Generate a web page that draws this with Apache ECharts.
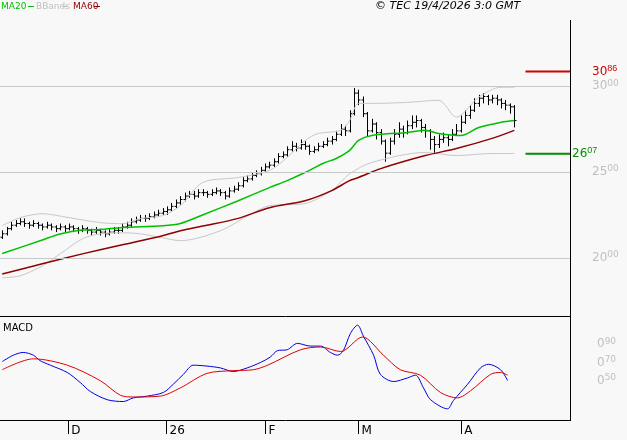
<!DOCTYPE html>
<html>
<head>
<meta charset="UTF-8">
<title>Chart</title>
<style>body{margin:0;background:#f8f8f8}</style>
</head>
<body>
<div id='main' style="width:627px;height:440px;"></div>
<script src="https://cdn.jsdelivr.net/npm/echarts@6/dist/echarts.min.js"></script>
<script type="text/javascript">
// daily bars [open, high, low, close]
var bars = [
 [21.2,21.6,21.1,21.4],[21.4,21.8,21.3,21.7],[21.7,22.1,21.6,21.9],[21.9,22.2,21.8,22.0],[22.0,22.3,21.9,22.1],
 [22.1,22.3,21.8,22.0],[22.0,22.1,21.7,21.9],[21.9,22.2,21.8,22.0],[22.0,22.1,21.7,21.9],[21.9,22.0,21.6,21.8],
 [21.8,22.1,21.7,21.9],[21.9,22.0,21.6,21.8],[21.8,21.9,21.5,21.7],[21.7,22.0,21.6,21.8],[21.8,21.9,21.5,21.7],
 [21.7,22.0,21.6,21.8],[21.8,21.9,21.5,21.7],[21.7,21.8,21.4,21.6],[21.6,21.9,21.5,21.7],[21.7,21.8,21.4,21.6],
 [21.6,21.7,21.3,21.5],[21.5,21.8,21.4,21.6],[21.6,21.7,21.3,21.5],[21.5,21.6,21.2,21.4],[21.4,21.7,21.3,21.5],
 [21.5,21.8,21.4,21.6],[21.6,21.8,21.4,21.6],[21.6,22.0,21.5,21.8],[21.8,22.1,21.7,21.9],[21.9,22.3,21.8,22.1],
 [22.1,22.4,22.0,22.2],[22.2,22.5,22.1,22.3],[22.3,22.5,22.1,22.3],[22.3,22.6,22.2,22.4],[22.4,22.7,22.3,22.5],
 [22.5,22.8,22.4,22.6],[22.6,22.9,22.5,22.7],[22.7,23.0,22.5,22.8],[22.8,23.2,22.7,23.0],[23.0,23.4,22.9,23.2],
 [23.2,23.6,23.1,23.4],[23.4,23.8,23.3,23.6],[23.6,23.9,23.5,23.7],[23.7,23.9,23.4,23.6],[23.6,24.0,23.5,23.8],
 [23.8,24.0,23.6,23.8],[23.8,23.9,23.5,23.7],[23.7,24.0,23.6,23.8],[23.8,24.1,23.7,23.9],[23.9,24.0,23.6,23.8],
 [23.8,23.9,23.4,23.6],[23.6,24.1,23.5,23.9],[23.9,24.2,23.8,24.0],[24.0,24.4,23.9,24.2],[24.2,24.7,24.1,24.5],
 [24.5,24.8,24.4,24.6],[24.6,25.0,24.5,24.8],[24.8,25.1,24.7,24.9],[24.9,25.3,24.8,25.1],[25.1,25.5,25.0,25.3],
 [25.3,25.6,25.2,25.4],[25.4,25.8,25.3,25.6],[25.6,26.1,25.5,25.9],[25.9,26.2,25.8,26.0],[26.0,26.5,25.9,26.3],
 [26.3,26.8,26.2,26.5],[26.5,26.7,26.2,26.4],[26.4,26.9,26.3,26.6],[26.6,26.8,26.3,26.5],[26.5,26.6,26.0,26.2],
 [26.2,26.5,26.1,26.3],[26.3,26.7,26.2,26.5],[26.5,26.8,26.4,26.6],[26.6,27.0,26.5,26.8],[26.8,27.1,26.6,26.9],
 [26.9,27.4,26.8,27.2],[27.2,27.8,27.1,27.5],[27.5,27.7,27.1,27.4],[27.4,28.6,27.3,28.4],[28.4,29.9,28.3,29.6],
 [29.6,29.8,28.9,29.2],[29.2,29.4,28.2,28.4],[28.4,28.5,27.1,27.4],[27.4,28.1,27.3,27.8],[27.8,27.9,26.9,27.3],
 [27.3,27.5,26.6,26.8],[26.8,26.9,25.6,26.1],[26.1,27.0,26.0,26.8],[26.8,27.5,26.6,27.2],[27.2,27.9,27.0,27.5],
 [27.5,27.7,27.0,27.3],[27.3,28.0,27.2,27.7],[27.7,28.3,27.5,27.9],[27.9,28.3,27.6,28.0],[28.0,28.1,27.3,27.6],
 [27.6,27.8,27.0,27.4],[27.4,27.5,26.3,26.9],[26.9,27.1,26.1,26.6],[26.6,27.2,26.4,26.9],[26.9,27.3,26.7,27.0],
 [27.0,27.2,26.5,26.9],[26.9,27.5,26.8,27.2],[27.2,27.8,27.1,27.4],[27.4,28.3,27.3,27.9],[27.9,28.6,27.8,28.3],
 [28.3,28.9,28.1,28.6],[28.6,29.3,28.5,29.0],[29.0,29.5,28.8,29.3],[29.3,29.6,29.0,29.4],[29.4,29.5,28.9,29.2],
 [29.2,29.5,29.0,29.3],[29.3,29.5,28.9,29.2],[29.2,29.3,28.7,29.0],[29.0,29.2,28.6,28.9],[28.9,29.0,28.4,28.8],
 [28.8,28.9,27.6,28.0]
];
// [bar index, value]
var ma20 = [[0,20.25],[9,21.04],[13,21.39],[18,21.62],[22,21.65],[27,21.77],[36,21.87],[40,22.0],[45,22.5],[53,23.33],
 [60,24.09],[64,24.5],[68,24.97],[72,25.5],[75,25.79],[78,26.26],[80,26.84],[83,27.13],[91,27.31],[95,27.43],
 [98,27.25],[103,27.13],[107,27.6],[112,27.9],[115,28.0]];
var ma60 = [[0,19.06],[9,19.65],[18,20.23],[27,20.76],[36,21.29],[40,21.58],[45,21.85],[53,22.3],[60,22.92],[68,23.33],
 [74,23.92],[78,24.5],[80,24.68],[85,25.2],[95,25.96],[102,26.37],[110,26.96],[115,27.43]];
var bbUp = [[0,21.87],[4,22.34],[9,22.57],[15,22.34],[22,22.05],[27,21.99],[31,22.28],[36,22.46],[40,23.04],[45,24.39],
 [53,24.68],[60,25.09],[64,25.85],[68,26.84],[71,27.25],[76,27.43],[78,28.0],[80,29.0],[83,29.0],[91,29.06],
 [98,29.18],[102,28.2],[107,29.36],[112,29.94],[115,29.94]];
var bbLow = [[0,18.83],[4,18.95],[9,19.53],[13,20.23],[18,21.11],[22,21.4],[27,21.46],[31,21.4],[36,21.17],[40,21.0],
 [49,21.58],[56,22.57],[60,23.04],[68,23.16],[74,23.92],[76,24.4],[78,24.9],[83,25.56],[95,26.14],[102,25.96],
 [110,26.08],[115,26.08]];
var macd = [[0,0.71],[2.5,0.78],[4.7,0.81],[7,0.78],[8.5,0.72],[10.8,0.67],[14.6,0.59],[17.5,0.48],[19.8,0.38],[23.6,0.29],
 [27.2,0.27],[29.4,0.31],[32.6,0.33],[36.2,0.37],[38.4,0.46],[40.7,0.57],[42.9,0.67],[46,0.66],[49,0.64],[51.9,0.60],
 [55,0.64],[58,0.70],[60.2,0.76],[61.8,0.83],[64,0.84],[66.3,0.91],[69.2,0.88],[71.5,0.88],[73.7,0.81],[75.3,0.78],
 [76.6,0.83],[78.2,1.02],[79.8,1.11],[81.1,0.99],[83.4,0.78],[84.9,0.57],[87.9,0.49],[91,0.53],[92.8,0.56],[94.6,0.42],
 [96.2,0.29],[100,0.19],[101.3,0.28],[104.5,0.46],[107.4,0.64],[109.2,0.68],[111.9,0.62],[113.5,0.50]];
var signal = [[0,0.62],[7,0.74],[14.6,0.67],[22,0.50],[26.5,0.34],[29.4,0.32],[35.5,0.33],[40,0.42],[46,0.58],[51.9,0.61],
 [56.4,0.62],[59.6,0.67],[67,0.84],[71.5,0.87],[76,0.82],[80.9,0.98],[85.6,0.78],[89.4,0.62],[93.9,0.56],[98.4,0.37],
 [102.2,0.31],[105.2,0.39],[109.7,0.57],[111.9,0.59],[113.5,0.56]];
var monthTicks = [14.8, 36.9, 59.1, 80, 103.1];
var monthLabels = ['D', '26', 'F', 'M', 'A'];
var priceTicks = [20, 25, 30];
var macdTicks = [0.5, 0.7, 0.9];
var target = 30.86, stop = 26.07;

var ohlc = bars.map(function (b, i) { return [i, b[0], b[1], b[2], b[3]]; });

function ohlcItem(params, api) {
    var x = api.coord([api.value(0), api.value(2)])[0];
    var o = api.coord([api.value(0), api.value(1)])[1];
    var h = api.coord([api.value(0), api.value(2)])[1];
    var l = api.coord([api.value(0), api.value(3)])[1];
    var c = api.coord([api.value(0), api.value(4)])[1];
    var st = { stroke: '#000', lineWidth: 1 };
    x = Math.round(x) + 0.5;
    return { type: 'group', children: [
        { type: 'line', shape: { x1: x, y1: h, x2: x, y2: l }, style: st },
        { type: 'line', shape: { x1: x - 2, y1: o, x2: x, y2: o }, style: st },
        { type: 'line', shape: { x1: x, y1: c, x2: x + 2, y2: c }, style: st }
    ]};
}

function decLabel(v) {
    var s = v.toFixed(2).split('.');
    return '{a|' + s[0] + '}{b|' + s[1] + '}';
}
var richGrey = { a: { color: '#c0c0c0', fontSize: 12, fontFamily: 'DejaVu Sans' }, b: { color: '#c0c0c0', fontSize: 9, verticalAlign: 'top', padding: [0,0,6,0], fontFamily: 'DejaVu Sans' } };

var xCommon = { type: 'value', min: -0.5, max: 127.5, axisLine: { show: false }, axisTick: { show: false }, axisLabel: { show: false }, splitLine: { show: false } };
var legendFont = { fontSize: 9, fontFamily: 'DejaVu Sans' };

var option = {
    backgroundColor: '#f8f8f8',
    animation: false,
    grid: [
        { left: 0, right: 57, top: 20, height: 296 },
        { left: 0, right: 57, top: 316, height: 104 }
    ],
    xAxis: [
        Object.assign({ gridIndex: 0 }, xCommon),
        { gridIndex: 1, type: 'value', min: -0.5, max: 127.5, splitLine: { show: false }, axisLine: { show: false },
          axisTick: { show: true, customValues: monthTicks, length: 14, inside: false, lineStyle: { color: '#000' } },
          axisLabel: { show: true, customValues: monthTicks, formatter: function (v) { return monthLabels[monthTicks.indexOf(v)] || ''; },
                       color: '#000', fontSize: 12, fontFamily: 'DejaVu Sans', align: 'left', margin: 5, padding: [0,0,0,3] } }
    ],
    yAxis: [
        { gridIndex: 0, type: 'value', position: 'right', min: 16.61, max: 33.86, splitLine: { show: false }, axisLine: { show: false }, axisTick: { show: false },
          axisLabel: { customValues: priceTicks, formatter: decLabel, rich: richGrey, margin: 22 } },
        { gridIndex: 1, type: 'value', position: 'right', min: 0.067, max: 1.211, splitLine: { show: false }, axisLine: { show: false }, axisTick: { show: false },
          axisLabel: { customValues: macdTicks, formatter: function (v) { return '{a|0}{b|' + Math.round(v * 100) + '}'; }, rich: richGrey, margin: 27 } }
    ],
    graphic: [
        { type: 'line', shape: { x1: 570.5, y1: 20, x2: 570.5, y2: 420 }, style: { stroke: '#000', lineWidth: 1 } },
        { type: 'line', shape: { x1: 0, y1: 316.5, x2: 571, y2: 316.5 }, style: { stroke: '#000', lineWidth: 1 } },
        { type: 'line', shape: { x1: 0, y1: 420.5, x2: 571, y2: 420.5 }, style: { stroke: '#000', lineWidth: 1 } },
        { type: 'text', left: 1, top: 2, style: Object.assign({ text: 'MA20', fill: '#00c000' }, legendFont) },
        { type: 'line', shape: { x1: 28, y1: 6.5, x2: 34, y2: 6.5 }, style: { stroke: '#00c000', lineWidth: 1 } },
        { type: 'text', left: 36, top: 2, style: Object.assign({ text: 'BBands', fill: '#c0c0c0' }, legendFont) },
        { type: 'line', shape: { x1: 62, y1: 6.5, x2: 68, y2: 6.5 }, style: { stroke: '#c0c0c0', lineWidth: 1 } },
        { type: 'text', left: 73, top: 2, style: Object.assign({ text: 'MA60', fill: '#900000' }, legendFont) },
        { type: 'line', shape: { x1: 94, y1: 6.5, x2: 100, y2: 6.5 }, style: { stroke: '#900000', lineWidth: 1 } },
        { type: 'text', left: 375, top: 1, style: { text: '© TEC 19/4/2026 3:0 GMT', fill: '#000', fontSize: 11, fontStyle: 'italic', fontFamily: 'DejaVu Sans' } },
        { type: 'text', left: 3, top: 323, style: { text: 'MACD', fill: '#000', fontSize: 10, fontFamily: 'DejaVu Sans' } }
    ],
    series: [
        { type: 'line', xAxisIndex: 0, yAxisIndex: 0, data: [], silent: true,
          markLine: { symbol: 'none', silent: true, label: { show: false }, lineStyle: { color: '#c8c8c8', type: 'solid', width: 1 },
                      data: priceTicks.map(function (v) { return { yAxis: v }; }) } },
        { type: 'line', xAxisIndex: 0, yAxisIndex: 0, data: bbUp, smooth: 0.3, symbol: 'none', lineStyle: { color: '#c8c8c8', width: 1 } },
        { type: 'line', xAxisIndex: 0, yAxisIndex: 0, data: bbLow, smooth: 0.3, symbol: 'none', lineStyle: { color: '#c8c8c8', width: 1 } },
        { type: 'line', xAxisIndex: 0, yAxisIndex: 0, data: ma60, smooth: 0.3, symbol: 'none', lineStyle: { color: '#900000', width: 1.5 } },
        { type: 'line', xAxisIndex: 0, yAxisIndex: 0, data: ma20, smooth: 0.3, symbol: 'none', lineStyle: { color: '#00c000', width: 1.5 } },
        { type: 'custom', xAxisIndex: 0, yAxisIndex: 0, renderItem: ohlcItem, data: ohlc, encode: { x: 0, y: [1, 2, 3, 4] } },
        { type: 'line', xAxisIndex: 0, yAxisIndex: 0, data: [[117.5, target], [127.5, target]], symbol: 'none', lineStyle: { color: '#d00000', width: 2 },
          endLabel: { show: true, formatter: decLabel(target), distance: 22, rich: { a: { color: '#d00000', fontSize: 12, fontFamily: 'DejaVu Sans' }, b: { color: '#d00000', fontSize: 9, verticalAlign: 'top', padding: [0,0,6,0] } } } },
        { type: 'line', xAxisIndex: 0, yAxisIndex: 0, data: [[117.5, stop], [127.5, stop]], symbol: 'none', lineStyle: { color: '#009000', width: 2 },
          endLabel: { show: true, formatter: decLabel(stop), distance: 2, rich: { a: { color: '#009000', fontSize: 12, fontFamily: 'DejaVu Sans' }, b: { color: '#009000', fontSize: 9, verticalAlign: 'top', padding: [0,0,6,0] } } } },
        { type: 'line', xAxisIndex: 1, yAxisIndex: 1, data: macd, smooth: 0.3, symbol: 'none', lineStyle: { color: '#0000e0', width: 1 } },
        { type: 'line', xAxisIndex: 1, yAxisIndex: 1, data: signal, smooth: 0.3, symbol: 'none', lineStyle: { color: '#e00000', width: 1 } }
    ]
};
var myChart = echarts.init(document.getElementById('main'));
myChart.setOption(option);
</script>
</body>
</html>
